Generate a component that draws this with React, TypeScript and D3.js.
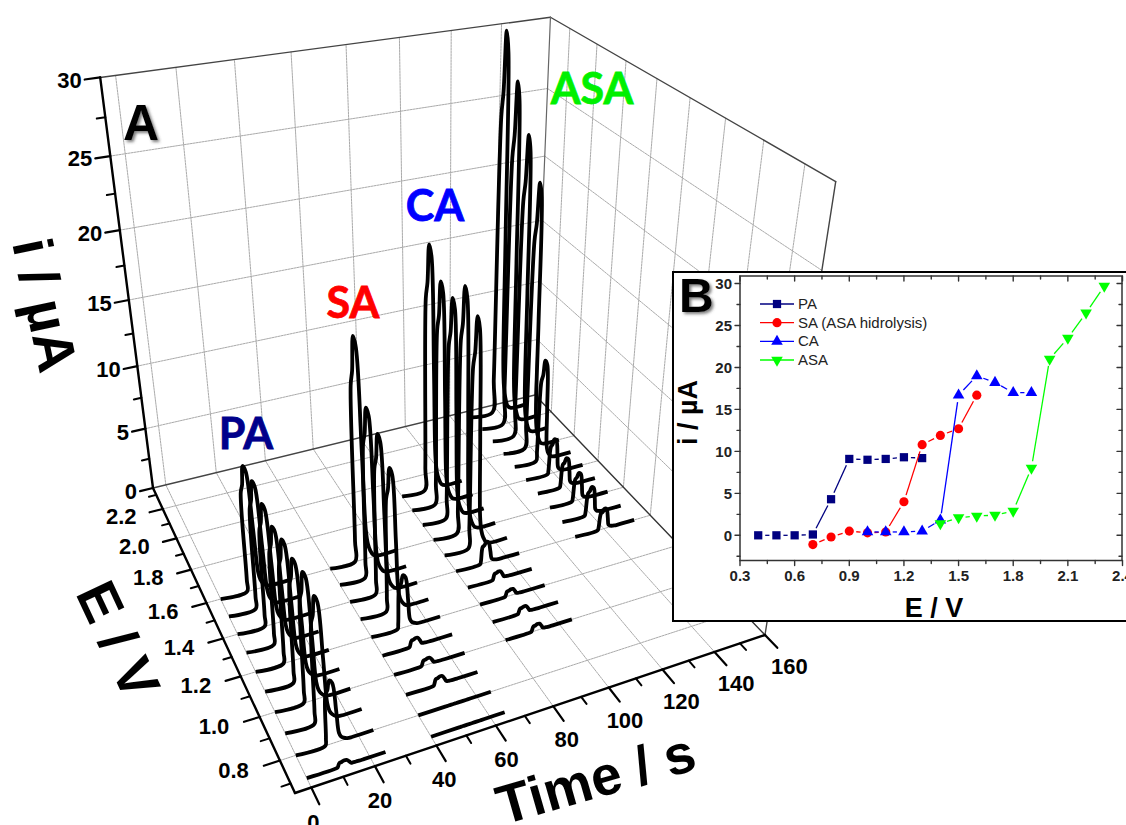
import React, { useEffect, useRef } from 'react';
import * as d3 from 'd3';

const WIDTH = 1126;
const HEIGHT = 825;

// panel A: peak heights (uA) per injection
const paStart = 0;
const paFirstE = 0.7;
const paPeaks = [0.4, 4.7, 9.2, 9.5, 9.1, 9.15, 8.8, 9.2, 9.65, 9.6];
const saStart = 40;
const saFirstE = 0.7;
const saPeaks = [0, 0, 0.6, 0.5, 0.6, 4.1, 10.8, 12.1, 12.9, 16.9];
const caStart = 80;
const caFirstE = 1.0;
const caPeaks = [0.5, 0.5, 0.5, 0.6, 1.7, 17.5, 18.7, 17, 17.3, 19.1];
const asaStart = 128;
const asaFirstE = 1.4;
const asaPeaks = [1.7, 2.3, 2.3, 2.4, 2.9, 8.4, 21.1, 23.8, 26.9, 29.8];

// shape of one injection peak: seconds from trace start, fraction of the height
const peakSeconds = [0, 9.4, 9.7, 10.3, 11, 11.7, 12.6, 13.4, 13.9, 14.5, 15.3, 16.5, 18, 25];
const peakFraction = [0, 0, 0.1, 0.8, 0.86, 1, 0.95, 0.5, 0.14, 0.07, 0.035, 0.008, 0, 0];

const iTicks = [0, 5, 10, 15, 20, 25, 30];
const iMinor = [2.5, 7.5, 12.5, 17.5, 22.5, 27.5];
const eTicks = [0.8, 1.0, 1.2, 1.4, 1.6, 1.8, 2.0, 2.2];
const eMinor = [0.7, 0.9, 1.1, 1.3, 1.5, 1.7, 1.9, 2.1, 2.3];
const tTicks = [0, 20, 40, 60, 80, 100, 120, 140, 160];
const tMinor = [10, 30, 50, 70, 90, 110, 130, 150];

// panel B
const insetPaE = [0.4, 0.5, 0.6, 0.7, 0.8, 0.9, 1.0, 1.1, 1.2, 1.3];
const insetPa = [0, 0, 0, 0.1, 4.3, 9.1, 9, 9.1, 9.3, 9.2];
const insetSaE = [0.7, 0.8, 0.9, 1.0, 1.1, 1.2, 1.3, 1.4, 1.5, 1.6];
const insetSa = [-1.1, -0.2, 0.5, 0.3, 0.4, 4, 10.8, 11.9, 12.7, 16.7];
const insetCaE = [1.0, 1.1, 1.2, 1.3, 1.4, 1.5, 1.6, 1.7, 1.8, 1.9];
const insetCa = [0.4, 0.4, 0.4, 0.5, 1.8, 16.7, 19, 18.2, 17, 17];
const insetAsaE = [1.4, 1.5, 1.6, 1.7, 1.8, 1.9, 2.0, 2.1, 2.2, 2.3];
const insetAsa = [1.4, 2.1, 2.3, 2.4, 2.9, 8, 21, 23.5, 26.5, 29.7];
const insetXTicks = [0.3, 0.6, 0.9, 1.2, 1.5, 1.8, 2.1, 2.4];
const insetXMinor = [0.45, 0.75, 1.05, 1.35, 1.65, 1.95, 2.25];
const insetYTicks = [0, 5, 10, 15, 20, 25, 30];
const insetYMinor = [-2.5, 2.5, 7.5, 12.5, 17.5, 22.5, 27.5];

// floor corners of the box on screen, and where the verticals converge
const cornerFront = [295, 793];
const cornerRight = [765, 635];
const cornerBack = [535, 395];
const cornerLeft = [153, 488];
const verticalVanish = [440, 2719];
const depthPerHeight = -0.205;

function floorHomography() {
    const [x0, y0] = cornerFront;
    const [x1, y1] = cornerRight;
    const [x2, y2] = cornerBack;
    const [x3, y3] = cornerLeft;
    const dx1 = x1 - x2, dx2 = x3 - x2, dx3 = x0 - x1 + x2 - x3;
    const dy1 = y1 - y2, dy2 = y3 - y2, dy3 = y0 - y1 + y2 - y3;
    const den = dx1 * dy2 - dx2 * dy1;
    const g = (dx3 * dy2 - dx2 * dy3) / den;
    const h = (dx1 * dy3 - dx3 * dy1) / den;
    return {
        a: x1 - x0 + g * x1, b: x3 - x0 + h * x3, c: x0,
        d: y1 - y0 + g * y1, e: y3 - y0 + h * y3, f: y0,
        g, h,
    };
}

const App = () => {
    const svgRef = useRef<SVGSVGElement>(null);

    useEffect(() => {
        const svg = d3.select(svgRef.current);
        svg.selectAll('*').remove();

        const defs = svg.append('defs');
        defs.append('filter').attr('id', 'shadow').attr('x', '-20%').attr('y', '-20%').attr('width', '150%').attr('height', '150%')
            .append('feDropShadow')
            .attr('dx', 2).attr('dy', 2).attr('stdDeviation', 1.6).attr('flood-color', '#444').attr('flood-opacity', 0.7);

        svg.append('rect').attr('width', WIDTH).attr('height', HEIGHT).attr('fill', '#fff');

        const u = d3.scaleLinear().domain([-5, 160]).range([0, 1]);
        const v = d3.scaleLinear().domain([0.66, 2.35]).range([0, 1]);
        const w = d3.scaleLinear().domain([0, 30]).range([0, 1]);
        const H = floorHomography();

        // t, E, i to screen
        const project = (t: number, E: number, i: number): [number, number] => {
            const uu = u(t), vv = v(E), zz = w(i);
            const wgt = H.g * uu + H.h * vv + 1 + zz * depthPerHeight;
            const X = H.a * uu + H.b * vv + H.c + zz * depthPerHeight * verticalVanish[0];
            const Y = H.d * uu + H.e * vv + H.f + zz * depthPerHeight * verticalVanish[1];
            return [X / wgt, Y / wgt];
        };

        const T0 = -5, T1 = 160, E0 = 0.66, E1 = 2.35, I1 = 30;
        const seg = (g: any, a: [number, number], b: [number, number], stroke: string, sw: number) =>
            g.append('line')
                .attr('x1', a[0]).attr('y1', a[1]).attr('x2', b[0]).attr('y2', b[1])
                .attr('stroke', stroke).attr('stroke-width', sw).attr('stroke-linecap', 'round');

        // grid on the walls and floor
        const grid = svg.append('g').attr('stroke-dasharray', '2 1');
        const gridColor = '#aaaaaa';
        tTicks.slice(0, -1).forEach(t => {
            seg(grid, project(t, E0, 0), project(t, E1, 0), gridColor, 1);
            seg(grid, project(t, E1, 0), project(t, E1, I1), gridColor, 1);
        });
        eTicks.forEach(E => {
            seg(grid, project(T0, E, 0), project(T1, E, 0), gridColor, 1);
            seg(grid, project(T1, E, 0), project(T1, E, I1), gridColor, 1);
        });
        iTicks.slice(1, -1).forEach(i => {
            seg(grid, project(T0, E1, i), project(T1, E1, i), gridColor, 1);
            seg(grid, project(T1, E1, i), project(T1, E0, i), gridColor, 1);
        });

        // box edges
        const box = svg.append('g');
        seg(box, project(T0, E1, 0), project(T1, E1, 0), '#444', 1.4);
        seg(box, project(T1, E1, 0), project(T1, E0, 0), '#333', 1.4);
        seg(box, project(T0, E1, I1), project(T1, E1, I1), '#444', 1.4);
        seg(box, project(T1, E1, I1), project(T1, E0, I1), '#444', 1.4);
        seg(box, project(T1, E1, 0), project(T1, E1, I1), '#666', 1.2);
        seg(box, project(T1, E0, 0), project(T1, E0, I1), '#444', 1.4);

        // axes
        const axes = svg.append('g');
        seg(axes, project(T0, E1, 0), project(T0, E1, I1), '#000', 2.4);
        seg(axes, project(T0, E1, 0), project(T0, E0, 0), '#000', 2.4);
        seg(axes, project(T0, E0, 0), project(T1, E0, 0), '#000', 2.4);

        const tickText = axes.append('g')
            .attr('font-family', '"Liberation Sans", Arial, sans-serif')
            .attr('font-weight', 700)
            .attr('font-size', 22)
            .attr('fill', '#000');

        iTicks.forEach(i => {
            const end = project(T0 - 5, E1, i);
            seg(axes, project(T0, E1, i), end, '#000', 2.2);
            tickText.append('text').attr('x', end[0] - 3).attr('y', end[1] + 8).attr('text-anchor', 'end').text(i);
        });
        iMinor.forEach(i => seg(axes, project(T0, E1, i), project(T0 - 2.8, E1, i), '#000', 2));

        const eDx = d3.scaleLinear().domain([0.8, 2.2]).range([-15, -13]);
        eTicks.forEach(E => {
            const end = project(T0 - 5, E, 0);
            seg(axes, project(T0, E, 0), end, '#000', 2.2);
            tickText.append('text').attr('x', end[0] + eDx(E)).attr('y', end[1] + 12).attr('text-anchor', 'end').text(E.toFixed(1));
        });
        eMinor.forEach(E => seg(axes, project(T0, E, 0), project(T0 - 2.8, E, 0), '#000', 2));

        const tDx = d3.scaleLinear().domain([0, 160]).range([-6, 12]);
        tTicks.forEach(t => {
            const end = project(t, E0 - 0.07, 0);
            seg(axes, project(t, E0, 0), end, '#000', 2.2);
            tickText.append('text').attr('x', end[0] + tDx(t)).attr('y', end[1] + 26).attr('text-anchor', 'middle').text(t);
        });
        tMinor.forEach(t => seg(axes, project(t, E0, 0), project(t, E0 - 0.035, 0), '#000', 2));

        // injection traces
        const traceLine = d3.line<number[]>().x(d => d[0]).y(d => d[1]).curve(d3.curveCatmullRom.alpha(0.5));
        const traces = svg.append('g')
            .attr('fill', 'none').attr('stroke', '#000').attr('stroke-width', 3.8)
            .attr('stroke-linejoin', 'round').attr('stroke-linecap', 'butt');
        [
            { start: paStart, firstE: paFirstE, peaks: paPeaks },
            { start: saStart, firstE: saFirstE, peaks: saPeaks },
            { start: caStart, firstE: caFirstE, peaks: caPeaks },
            { start: asaStart, firstE: asaFirstE, peaks: asaPeaks },
        ].forEach(group => {
            group.peaks.forEach((peak, n) => {
                const E = group.firstE + n * 0.1;
                const pts = peakSeconds.map((s, k) => project(group.start + s, E, peakFraction[k] * peak));
                traces.append('path').attr('d', traceLine(pts));
            });
        });

        // big labels of panel A
        const labelFont = 'Lato, "Noto Sans", sans-serif';
        const compound = svg.append('g').attr('font-family', labelFont).attr('font-weight', 700).attr('font-size', 43).attr('stroke-width', 0.8);
        compound.append('text').attr('x', 246).attr('y', 449).attr('text-anchor', 'middle').attr('fill', '#00008b').attr('stroke', '#00008b').text('PA');
        compound.append('text').attr('x', 353).attr('y', 318).attr('text-anchor', 'middle').attr('fill', '#ff0000').attr('stroke', '#ff0000').text('SA');
        compound.append('text').attr('x', 435).attr('y', 221).attr('text-anchor', 'middle').attr('fill', '#0000ff').attr('stroke', '#0000ff').text('CA');
        compound.append('text').attr('x', 592).attr('y', 104).attr('text-anchor', 'middle').attr('fill', '#00f000').attr('stroke', '#00f000').text('ASA');

        const axisFont = '"Liberation Sans", Arial, sans-serif';
        svg.append('text').attr('x', 141).attr('y', 140).attr('text-anchor', 'middle')
            .attr('font-family', axisFont).attr('font-weight', 700).attr('font-size', 50).attr('filter', 'url(#shadow)').text('A');
        svg.append('text').attr('transform', 'translate(12,243) rotate(78)')
            .attr('font-family', axisFont).attr('font-weight', 700).attr('font-size', 56).text('i / µA');
        svg.append('text').attr('transform', 'translate(75,593) rotate(65)')
            .attr('font-family', axisFont).attr('font-weight', 700).attr('font-size', 56).text('E / V');
        svg.append('text').attr('transform', 'translate(503,825) rotate(-16)')
            .attr('font-family', axisFont).attr('font-weight', 700).attr('font-size', 55).text('Time / s');

        // panel B
        const inset = svg.append('g');
        inset.append('rect').attr('x', 673).attr('y', 272).attr('width', 470).attr('height', 349)
            .attr('fill', '#fff').attr('stroke', '#000').attr('stroke-width', 2);

        const x = d3.scaleLinear().domain([0.3, 2.4]).range([740, 1122.5]);
        const y = d3.scaleLinear().domain([-3, 30]).range([560.5, 283.5]);
        const top = 276, bottom = 560.5, left = 740, right = 1122;

        inset.append('rect').attr('x', left).attr('y', top).attr('width', right - left).attr('height', bottom - top)
            .attr('fill', 'none').attr('stroke', '#333').attr('stroke-width', 1.5);

        const tick = (a: number[], b: number[], sw = 1.4) => seg(inset, a as any, b as any, '#333', sw);
        insetXTicks.forEach(d => { tick([x(d), bottom], [x(d), bottom + 5]); tick([x(d), top], [x(d), top + 5]); });
        insetXMinor.forEach(d => { tick([x(d), bottom], [x(d), bottom + 3]); tick([x(d), top], [x(d), top + 3]); });
        insetYTicks.forEach(d => { tick([left, y(d)], [left - 5, y(d)]); tick([right, y(d)], [right - 5, y(d)]); });
        insetYMinor.forEach(d => { tick([left, y(d)], [left - 3, y(d)]); tick([right, y(d)], [right - 3, y(d)]); });

        const insetText = inset.append('g').attr('font-family', axisFont).attr('font-weight', 700).attr('font-size', 15).attr('fill', '#222');
        insetXTicks.forEach(d => insetText.append('text').attr('x', x(d)).attr('y', 581).attr('text-anchor', 'middle').text(d.toFixed(1)));
        insetYTicks.forEach(d => insetText.append('text').attr('x', left - 8).attr('y', y(d) + 5.5).attr('text-anchor', 'end').text(d));

        inset.append('text').attr('x', 934).attr('y', 617).attr('text-anchor', 'middle')
            .attr('font-family', axisFont).attr('font-weight', 700).attr('font-size', 27).text('E / V');
        inset.append('text').attr('transform', 'translate(697,445) rotate(-90)')
            .attr('font-family', axisFont).attr('font-weight', 700).attr('font-size', 27).text('i / µA');
        inset.append('text').attr('x', 679).attr('y', 312)
            .attr('font-family', axisFont).attr('font-weight', 700).attr('font-size', 48).attr('filter', 'url(#shadow)').text('B');

        const symbolFor = (shape: string) => {
            if (shape === 'square') return d3.symbol().type(d3.symbolSquare).size(68)();
            if (shape === 'circle') return d3.symbol().type(d3.symbolCircle).size(66)();
            return d3.symbol().type(d3.symbolTriangle).size(58)();
        };
        const mark = (g: any, shape: string, color: string, px: number, py: number) =>
            g.append('path')
                .attr('d', symbolFor(shape))
                .attr('fill', color)
                .attr('transform', `translate(${px},${py})${shape === 'down' ? ' rotate(180)' : ''}`);

        const gap = 7;
        const series = [
            { name: 'PA', color: '#000080', shape: 'square', xs: insetPaE, ys: insetPa },
            { name: 'SA (ASA hidrolysis)', color: '#ff0000', shape: 'circle', xs: insetSaE, ys: insetSa },
            { name: 'CA', color: '#0000ff', shape: 'up', xs: insetCaE, ys: insetCa },
            { name: 'ASA', color: '#00ff00', shape: 'down', xs: insetAsaE, ys: insetAsa },
        ];
        series.forEach(s => {
            const g = inset.append('g');
            const pts = s.xs.map((d, k) => [x(d), y(s.ys[k])]);
            d3.pairs(pts).forEach(([a, b]) => {
                const len = Math.hypot(b[0] - a[0], b[1] - a[1]);
                if (len <= gap * 2) return;
                const ox = (b[0] - a[0]) / len * gap, oy = (b[1] - a[1]) / len * gap;
                g.append('line')
                    .attr('x1', a[0] + ox).attr('y1', a[1] + oy).attr('x2', b[0] - ox).attr('y2', b[1] - oy)
                    .attr('stroke', s.color).attr('stroke-width', 1.3);
            });
            pts.forEach(p => mark(g, s.shape, s.color, p[0], p[1]));
        });

        // legend
        const legend = inset.append('g');
        const legendRow = d3.scalePoint().domain(series.map(s => s.name)).range([304, 360]);
        series.forEach(s => {
            const ly = legendRow(s.name) as number;
            legend.append('line').attr('x1', 760).attr('x2', 794).attr('y1', ly).attr('y2', ly)
                .attr('stroke', s.color).attr('stroke-width', 1.3);
            mark(legend, s.shape, s.color, 777, ly);
            legend.append('text').attr('x', 798).attr('y', ly + 5)
                .attr('font-family', axisFont).attr('font-size', 15).attr('fill', '#222').text(s.name);
        });
    }, []);

    return <svg ref={svgRef} width={WIDTH} height={HEIGHT} style={{ position: 'absolute', left: 0, top: 0, display: 'block' }}></svg>;
};

export default App;
